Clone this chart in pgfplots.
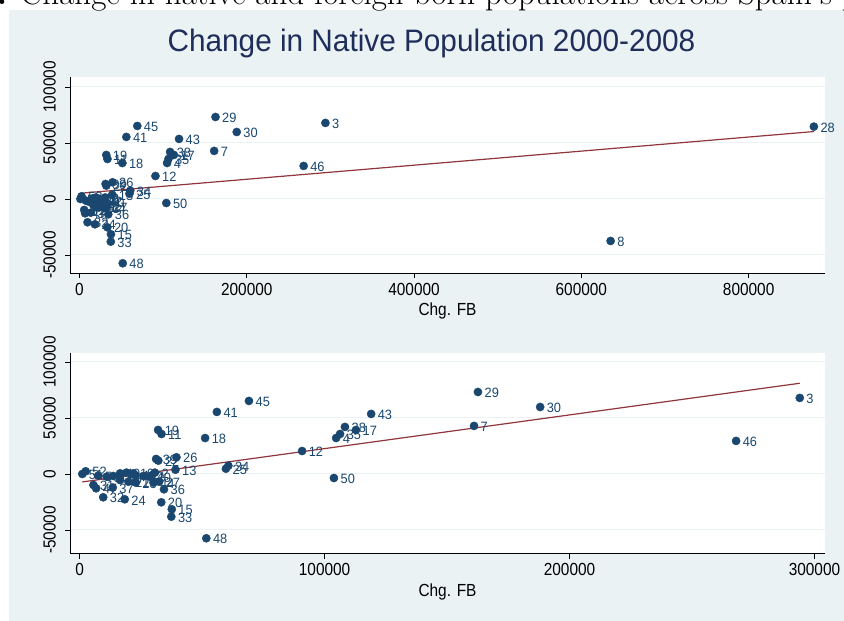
\documentclass[border=0pt]{standalone}
\usepackage{pgfplots}
\pgfplotsset{compat=1.18}
\usepackage{pgfplotstable}
\usepackage{fontspec}
\usepackage{graphicx}
\newfontfamily\sans{Liberation Sans}
\definecolor{bg}{RGB}{234,242,243}
\definecolor{navy}{RGB}{26,71,111}
\definecolor{maroon}{RGB}{144,53,59}
\definecolor{ttl}{RGB}{30,45,90}
\newcommand{\cond}[1]{\scalebox{0.88}[1]{#1}}
\newcommand{\lab}[1]{\scalebox{0.95}[1]{#1}}

\pgfplotstableread{
x y lab
16500 600 1
30700 1200 2
294000 67900 3
104700 32100 4
7600 -1500 5
11000 -2400 6
161000 42900 7
635000 -37500 8
19100 1200 9
21900 600 10
33400 35700 11
90800 20500 12
39100 3800 13
16500 -5400 14
37600 -31500 15
13700 -1800 16
112800 39300 17
51200 32100 18
32000 39300 19
33300 -25300 20
19900 -6900 21
32100 11900 22
22900 -7700 23
18400 -22600 24
59700 4700 25
39500 14900 26
32400 -6900 27
878000 64600 28
162600 73200 29
188000 59800 30
5600 -9800 31
9600 -20800 32
37400 -38100 33
60700 7400 34
106300 35700 35
34400 -13700 36
13500 -12200 37
108300 42000 38
31200 13400 39
28700 -2400 40
56000 55400 41
26000 -1800 42
119000 53600 43
30100 -7700 44
69100 65200 45
268000 29500 46
6700 -12800 47
51700 -57400 48
22600 -900 49
103800 -3600 50
1060 0 51
2450 2400 52
}\pts

\pgfplotsset{stata/.style={
  scale only axis, clip=false,
  axis background/.style={fill=white},
  axis x line=bottom, axis y line=left,
  axis line style={-, black, line width=0.8pt},
  tick align=outside, major tick length=5pt,
  tick style={black, line width=0.8pt},
  ymajorgrids, grid style={bg, line width=1pt},
  ytick={-50000,0,50000,100000},
  yticklabels={\cond{-50000},\cond{0},\cond{50000},\cond{100000}},
  yticklabel style={rotate=90, anchor=south, inner sep=0pt, yshift=9pt},
  xticklabel style={anchor=north, inner sep=0pt, yshift=-5pt},
  tick label style={font=\sans\fontsize{17.5}{19}\selectfont, text=black},
  xlabel={\cond{Chg. FB}},
  xlabel style={at={(axis description cs:0.5,0)}, anchor=north, yshift=-30pt, inner sep=0pt, font=\sans\fontsize{17.5}{19}\selectfont},
  scaled x ticks=false, scaled y ticks=false,
}}

\begin{document}
\begin{tikzpicture}
\useasboundingbox (0,0) rectangle (844pt,-621pt);
\clip (0,0) rectangle (844pt,-621pt);
\fill[bg] (9pt,-10pt) rectangle (844pt,-621pt);
\node[anchor=base west, inner sep=0pt, font=\fontsize{33}{36}\selectfont] at (-22pt,-5pt) {\textbf{2.} Change in native and foreign born populations across Spain's provinces};
\node[font=\sans\fontsize{31}{33}\selectfont, text=ttl] at (431.5pt,-43pt) {\scalebox{0.96}[1]{Change in Native Population 2000-2008}};

\begin{axis}[stata, at={(70pt,-273pt)}, anchor=south west, width=755pt, height=196pt,
  xmin=-11360, xmax=891300, ymin=-66100, ymax=108900,
  xtick={0,200000,400000,600000,800000},
  xticklabels={\cond{0},\cond{200000},\cond{400000},\cond{600000},\cond{800000}}]
\addplot[only marks, mark=*, mark size=4.1pt, navy, mark options={fill=navy, draw=navy},
  point meta=explicit symbolic,
  nodes near coords={\lab{\pgfplotspointmeta}},
  nodes near coords style={font=\sans\fontsize{13.5}{15}\selectfont, text=navy, anchor=west, inner sep=0pt, xshift=6.5pt, yshift=-1pt}]
  table[x=x, y=y, meta=lab]{\pts};
\addplot[maroon, line width=1.2pt] coordinates {(1060,5100) (878000,60200)};
\end{axis}

\begin{axis}[stata, at={(70pt,-553.5pt)}, anchor=south west, width=755pt, height=200.5pt,
  xmin=-3960, xmax=304300, ymin=-71000, ymax=108000,
  xtick={0,100000,200000,300000},
  xticklabels={\cond{0},\cond{100000},\cond{200000},\cond{300000}}]
\addplot[only marks, mark=*, mark size=4.1pt, navy, mark options={fill=navy, draw=navy},
  restrict x to domain=-10000:300000,
  point meta=explicit symbolic,
  nodes near coords={\lab{\pgfplotspointmeta}},
  nodes near coords style={font=\sans\fontsize{13.5}{15}\selectfont, text=navy, anchor=west, inner sep=0pt, xshift=6.5pt, yshift=-1pt}]
  table[x=x, y=y, meta=lab]{\pts};
\addplot[maroon, line width=1.2pt] coordinates {(1060,-7100) (294000,81000)};
\end{axis}
\end{tikzpicture}
\end{document}
